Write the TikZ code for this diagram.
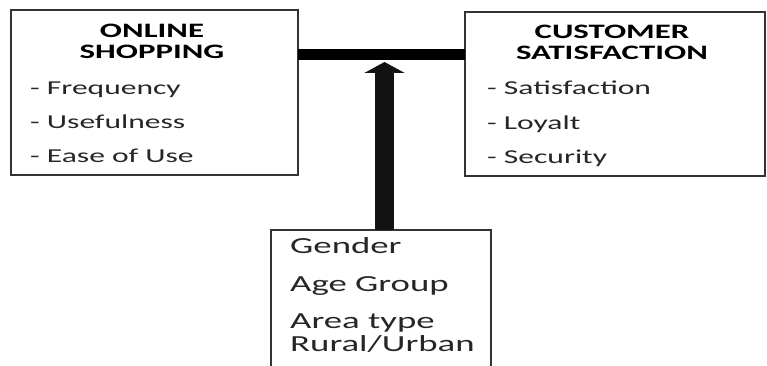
\documentclass[tikz,border=0pt]{standalone}
\usepackage{fontspec}
\setmainfont{Carlito}[FakeStretch=1.6]
\usetikzlibrary{arrows.meta,calc}
\begin{document}
\begin{tikzpicture}[x=1pt,y=-1pt,
  box/.style={draw=black!80,line width=1.3pt,inner sep=0pt,outer sep=0pt},
  ttl/.style={font=\fontsize{20.5}{21}\selectfont\bfseries,align=center,inner sep=0pt},
  item/.style={font=\fontsize{19.7}{20}\selectfont,anchor=base west,inner sep=0pt,text=black!85},
  demo/.style={font=\fontsize{23}{24}\selectfont,anchor=base west,inner sep=0pt,text=black!85},
  bar/.style={line width=11pt,black},
  shaft/.style={line width=19pt,black!93,-{Triangle[width=40pt,length=11pt]}}]
\useasboundingbox (0,0) rectangle (767,366);
\clip (0,0) rectangle (767,366);
\fill[white] (0,0) rectangle (767,366);
% boxes
\node[box,minimum width=287pt,minimum height=165pt] (os) at (154.5,92.5) {};
\node[box,minimum width=300pt,minimum height=164pt] (cs) at (615,94) {};
\node[box,minimum width=220pt,minimum height=160pt] (dm) at (381,310) {};
% titles
\node[ttl] (ost) at (152,41) {ONLINE\\SHOPPING};
\node[ttl] (cst) at (612,42) {CUSTOMER\\SATISFACTION};
% items
\node[item] (i1) at (30,95) {- Frequency};
\node[item] (i2) at (30,129) {- Usefulness};
\node[item] (i3) at (30,163) {- Ease of Use};
\node[item] (j1) at (487,95) {- Satisfaction};
\node[item] (j2) at (487,130) {- Loyalt};
\node[item] (j3) at (487,164) {- Security};
\node[demo] (d1) at (290,253) {Gender};
\node[demo] (d2) at (290,291) {Age Group};
\node[demo] (d3) at (290,328) {Area type};
\node[demo] (d4) at (290,351) {Rural/Urban};
% connectors
\coordinate (by) at (0,54.5);
\coordinate (tip) at (384.5,62);
\draw[bar] (os.east |- by) -- (cs.west |- by);
\draw[shaft] (tip |- dm.north) -- (tip);
\end{tikzpicture}
\end{document}
